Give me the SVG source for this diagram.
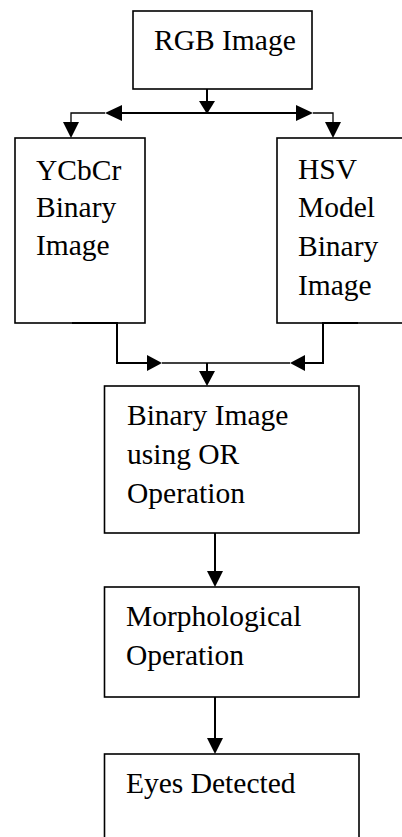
<svg xmlns="http://www.w3.org/2000/svg" width="402" height="837" viewBox="0 0 402 837">
  <style>
    .box { fill: #ffffff; stroke: #000000; stroke-width: 1.6; }
    .label { font-family: "Liberation Serif", "Times New Roman", serif; font-size: 29.5px; fill: #000000; }
    .line { fill: none; stroke: #000000; stroke-width: 2; }
    .thin { fill: none; stroke: #000000; stroke-width: 1.3; }
    .head { fill: #000000; stroke: none; }
  </style>
  <rect width="402" height="837" fill="#ffffff"/>

  <g id="rgb">
    <rect class="box" x="133" y="11" width="179" height="78"/>
    <text class="label" x="154" y="50">RGB Image</text>
  </g>

  <g id="ycbcr">
    <rect class="box" x="15" y="138" width="130" height="185"/>
    <text class="label" x="36" y="180">YCbCr</text>
    <text class="label" x="36" y="217">Binary</text>
    <text class="label" x="36" y="255">Image</text>
  </g>

  <g id="hsv">
    <rect class="box" x="277" y="138" width="127" height="185"/>
    <text class="label" x="298" y="179">HSV</text>
    <text class="label" x="298" y="217">Model</text>
    <text class="label" x="298" y="256">Binary</text>
    <text class="label" x="298" y="295">Image</text>
  </g>

  <g id="or">
    <rect class="box" x="104.5" y="386" width="254.5" height="147"/>
    <text class="label" x="127" y="425">Binary Image</text>
    <text class="label" x="127" y="464">using OR</text>
    <text class="label" x="127" y="503">Operation</text>
  </g>

  <g id="morph">
    <rect class="box" x="104.5" y="587" width="254.5" height="110"/>
    <text class="label" x="126" y="626">Morphological</text>
    <text class="label" x="126" y="665">Operation</text>
  </g>

  <g id="eyes">
    <rect class="box" x="104.5" y="754" width="254.5" height="90"/>
    <text class="label" x="126" y="793">Eyes Detected</text>
  </g>

  <g id="connectors">
    <!-- split below the RGB image -->
    <line class="line" x1="207" y1="89" x2="207" y2="104"/>
    <polygon class="head" points="199,101 215,101 207,114"/>
    <line class="line" x1="120" y1="113" x2="298" y2="113"/>
    <polygon class="head" points="105,113 122,105 122,121"/>
    <polygon class="head" points="313,113 296,105 296,121"/>
    <polyline class="thin" points="105,113 71,113 71,124"/>
    <polygon class="head" points="63,122 79,122 71,138"/>
    <polyline class="thin" points="313,113 333,113 333,124"/>
    <polygon class="head" points="325,122 341,122 333,138"/>

    <!-- merge into the OR box -->
    <polyline class="line" points="72,323 117,323 117,363 149,363"/>
    <polygon class="head" points="162,363 147,355 147,371"/>
    <polyline class="line" points="358,323 323,323 323,363 303,363"/>
    <polygon class="head" points="290,363 305,355 305,371"/>
    <line class="thin" x1="162" y1="363" x2="290" y2="363"/>
    <line class="line" x1="207" y1="363" x2="207" y2="372"/>
    <polygon class="head" points="199,371 215,371 207,386"/>

    <!-- OR box to morphology -->
    <line class="line" x1="215" y1="533" x2="215" y2="572"/>
    <polygon class="head" points="207,571 223,571 215,587"/>

    <!-- morphology to eyes detected -->
    <line class="line" x1="215" y1="697" x2="215" y2="739"/>
    <polygon class="head" points="207,738 223,738 215,754"/>
  </g>
</svg>
